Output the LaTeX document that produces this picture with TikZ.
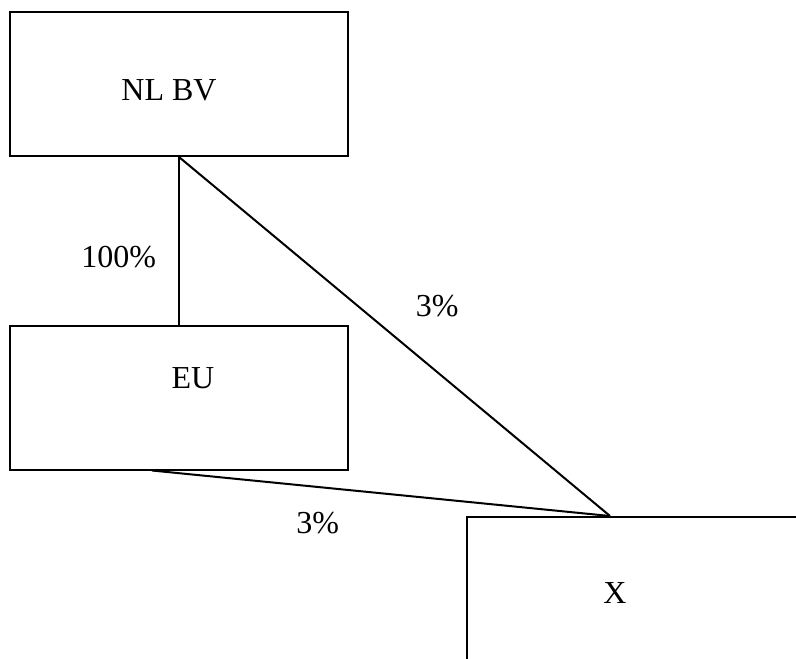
\documentclass[tikz,border=0pt]{standalone}
\usepackage{fontspec}
\setmainfont{Liberation Serif}
\usetikzlibrary{positioning, calc}

\begin{document}
\begin{tikzpicture}[
    x=1pt, y=-1pt,
    entity/.style={rectangle, draw=black, line width=2pt, minimum width=338pt, minimum height=144pt, inner sep=0pt},
    link/.style={line width=2pt, black},
    share/.style={font=\fontsize{32}{38}\selectfont, inner sep=0pt}
  ]
    % canvas the size of the reference
    \useasboundingbox (0,0) rectangle (796,659);
    \clip (0,0) rectangle (796,659);

    \node[entity, label={[share, xshift=-10pt, yshift=-6pt]center:NL BV}] (nlbv) at (179,84) {};
    \node[entity, label={[share, xshift=14pt, yshift=19pt]center:EU}] (eu) at (179,397.5) {};
    \node[entity, label={[share, xshift=-21pt, yshift=-4pt]center:X}] (xbv) at (636,589) {};

    \coordinate (xtop) at ($(xbv.north west)+(144,0)$);
    \coordinate (eufoot) at ($(eu.south)+(-27,0)$);

    \draw[link] (nlbv.south) -- node[share, pos=.6, left=22pt] {100\%} (eu.north);
    \draw[link] (nlbv.south) -- node[share, pos=.415, right=57pt] {3\%} (xtop);
    \draw[link] (eufoot) -- node[share, pos=.362, below=24pt] {3\%} (xtop);
\end{tikzpicture}
\end{document}
